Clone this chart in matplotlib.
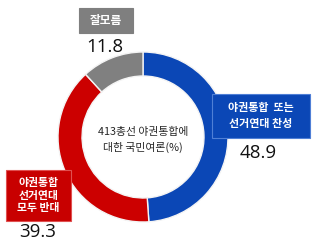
import matplotlib
matplotlib.use("Agg")
import matplotlib.pyplot as plt

plt.rcParams['font.family'] = ['Noto Sans CJK KR', 'DejaVu Sans']

categories = ["야권통합  또는\n선거연대 찬성", "야권통합\n선거연대\n모두 반대", "잘모름"]
values = [48.9, 39.3, 11.8]
colors = ["#0b47b6", "#cc0000", "#808080"]
center_title = "413총선 야권통합에\n대한 국민여론(%)"

W, H = 315, 250
fig = plt.figure(figsize=(W / 100, H / 100), dpi=100)
ax = fig.add_axes([0, 0, 1, 1])

cx, cy, R = 143, H - 137, 85
ax.pie(values, colors=colors, startangle=90, counterclock=False,
       center=(cx, cy), radius=R,
       wedgeprops=dict(width=24, edgecolor="#f4f4f4", linewidth=1.0))
ax.set_xlim(0, W)
ax.set_ylim(0, H)
ax.set_aspect('equal')
ax.axis('off')

ax.text(cx, cy - 3, center_title, ha='center', va='center', fontsize=7.8,
        color="#262626", linespacing=1.45)

# label boxes: (center x, center y in px-from-top, box w, box h)
boxes = [
    (261, 116, 98, 44, "#0b47b6", "#4f7fd6"),
    (38.5, 195.5, 65, 51, "#c80000", "#e05050"),
    (105.5, 20.5, 54, 25, "#7f7f7f", "#7f7f7f"),
]
value_pos = [(258, 153), (38, 232), (105, 47)]
fsz = [7.9, 7.8, 8.4]
lsp = [1.75, 1.3, 1.2]

for i, cat in enumerate(categories):
    bx, by, bw, bh, fc, ec = boxes[i]
    ax.add_patch(plt.Rectangle((bx - bw / 2, H - by - bh / 2), bw, bh,
                               facecolor=fc, edgecolor=ec, linewidth=0.8))
    ax.text(bx, H - by, cat, ha='center', va='center', color='white',
            fontsize=fsz[i], fontweight='bold', linespacing=lsp[i])
    vx, vy = value_pos[i]
    ax.text(vx, H - vy, f"{values[i]:.1f}", ha='center', va='center',
            fontsize=13.5, color="#111111", family=['Open Sans', 'DejaVu Sans'])

fig.savefig("out.png", dpi=100, facecolor='white')
